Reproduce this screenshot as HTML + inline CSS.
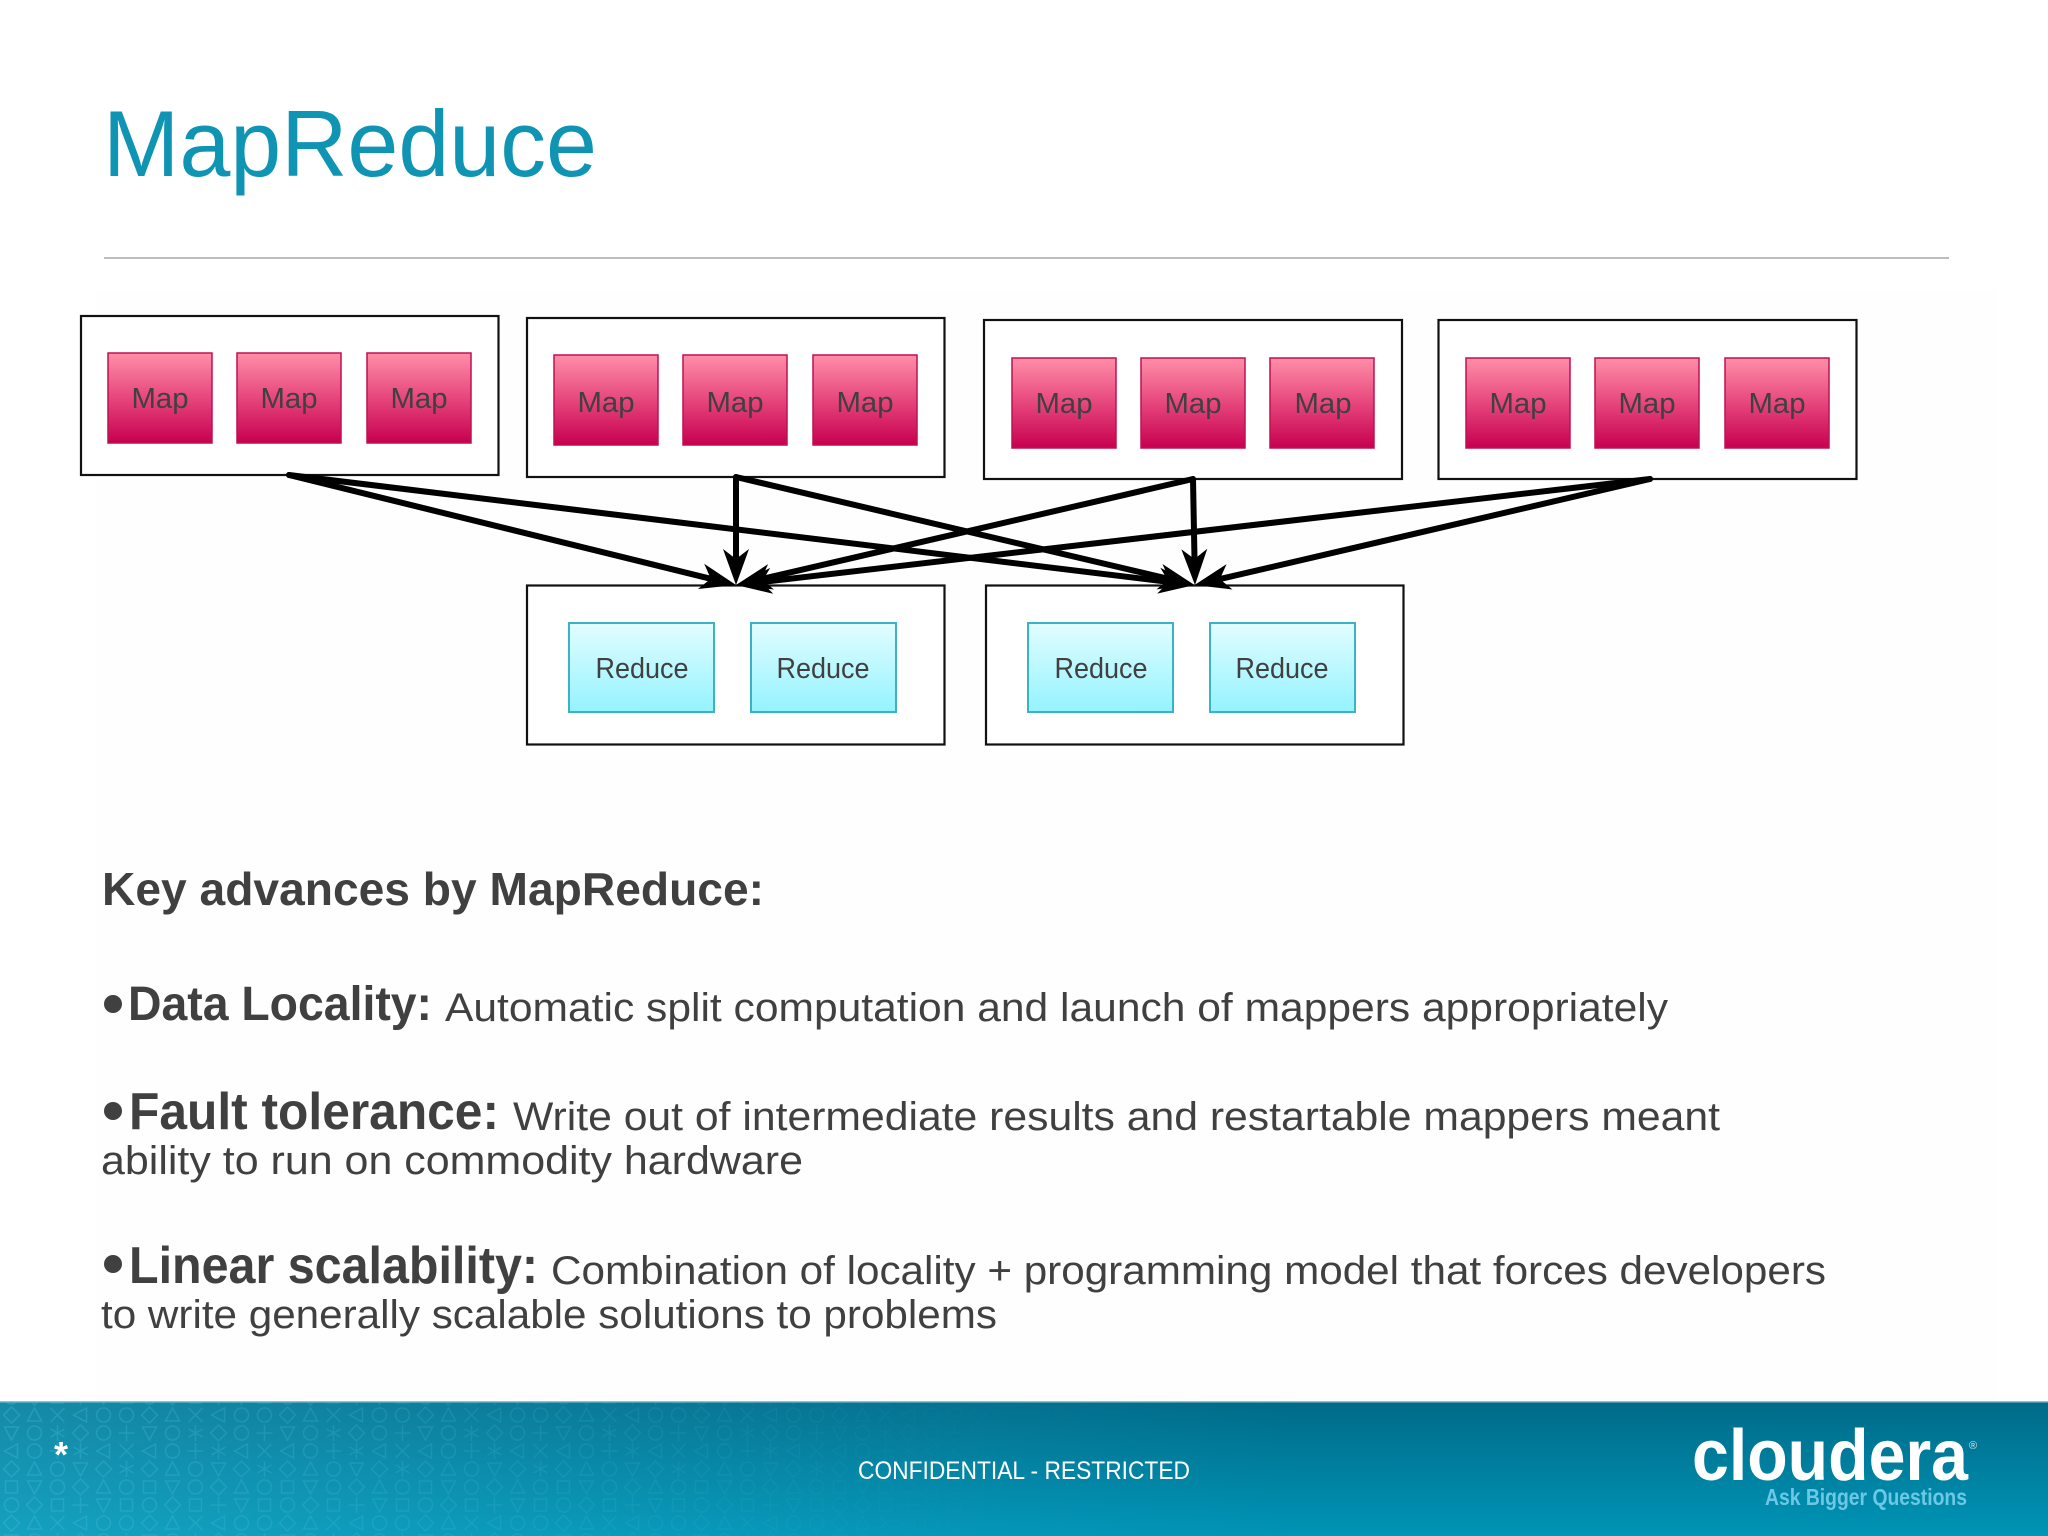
<!DOCTYPE html>
<html><head><meta charset="utf-8"><title>MapReduce</title>
<style>html,body{margin:0;padding:0;background:#fff}svg{display:block}text{font-family:"Liberation Sans",sans-serif}</style></head>
<body>
<svg xmlns="http://www.w3.org/2000/svg" width="2048" height="1536" viewBox="0 0 2048 1536">
<defs>
<linearGradient id="m" x1="0" y1="0" x2="0" y2="1"><stop offset="0" stop-color="#ff8fa8"/><stop offset=".5" stop-color="#e6467c"/><stop offset="1" stop-color="#c70050"/></linearGradient>
<linearGradient id="r" x1="0" y1="0" x2="0" y2="1"><stop offset="0" stop-color="#e2fdff"/><stop offset="1" stop-color="#94f3ff"/></linearGradient>
<linearGradient id="f" x1="0" y1="0" x2="0" y2="1"><stop offset="0" stop-color="#006a88"/><stop offset="1" stop-color="#0094b6"/></linearGradient>
<linearGradient id="lt" x1="0" y1="0" x2="1" y2="0"><stop offset="0" stop-color="#2fb0cc" stop-opacity=".45"/><stop offset=".5" stop-color="#2fb0cc" stop-opacity=".2"/><stop offset="1" stop-color="#2fb0cc" stop-opacity="0"/></linearGradient>
<linearGradient id="fade" x1="0" y1="0" x2="1" y2="0"><stop offset="0" stop-color="#fff" stop-opacity="1"/><stop offset=".6" stop-color="#fff" stop-opacity=".45"/><stop offset="1" stop-color="#fff" stop-opacity="0"/></linearGradient>
<mask id="fm"><rect x="0" y="1402" width="1060" height="134" fill="url(#fade)"/></mask>
<g id="c"><circle r="7"/></g>
<g id="t"><path d="M0-7l7 13h-14z"/></g>
<g id="v"><path d="M0 7l7-13h-14z"/></g>
<g id="l"><path d="M-7 0l13-7v14z"/></g>
<g id="d"><path d="M0-8l8 8-8 8-8-8z"/></g>
<g id="x"><path d="M-7-7L7 7M7-7L-7 7"/></g>
<g id="s"><rect x="-6" y="-6" width="12" height="12"/></g>
<g id="p"><path d="M0-8v16M-8 0h16"/></g>
<g id="a"><path d="M0-8v16M-7-4L7 4M7-4L-7 4"/></g>
<pattern id="gl" width="138" height="108" patternUnits="userSpaceOnUse" y="1406">
<g fill="none" stroke="#4cc2dc" stroke-width="1.5" stroke-opacity=".32">
<use href="#d" x="11.5" y="9"/><use href="#t" x="34.5" y="9"/><use href="#x" x="57.5" y="9"/><use href="#l" x="80.5" y="9"/><use href="#c" x="103.5" y="9"/><use href="#c" x="126.5" y="9"/>
<use href="#v" x="11.5" y="27"/><use href="#c" x="34.5" y="27"/><use href="#a" x="57.5" y="27"/><use href="#d" x="80.5" y="27"/><use href="#c" x="103.5" y="27"/><use href="#p" x="126.5" y="27"/>
<use href="#l" x="11.5" y="45"/><use href="#c" x="34.5" y="45"/><use href="#p" x="57.5" y="45"/><use href="#a" x="80.5" y="45"/><use href="#l" x="103.5" y="45"/><use href="#x" x="126.5" y="45"/>
<use href="#d" x="11.5" y="63"/><use href="#t" x="34.5" y="63"/><use href="#c" x="57.5" y="63"/><use href="#v" x="80.5" y="63"/><use href="#d" x="103.5" y="63"/><use href="#a" x="126.5" y="63"/>
<use href="#s" x="11.5" y="81"/><use href="#v" x="34.5" y="81"/><use href="#c" x="57.5" y="81"/><use href="#d" x="80.5" y="81"/><use href="#t" x="103.5" y="81"/><use href="#c" x="126.5" y="81"/>
<use href="#c" x="11.5" y="99"/><use href="#d" x="34.5" y="99"/><use href="#s" x="57.5" y="99"/><use href="#p" x="80.5" y="99"/><use href="#v" x="103.5" y="99"/><use href="#s" x="126.5" y="99"/>
</g></pattern>
<marker id="h" markerUnits="userSpaceOnUse" markerWidth="38" markerHeight="28" refX="10" refY="13" orient="auto" overflow="visible"><path d="M0 0L36 13L0 26L10 13Z" fill="#000"/></marker>
</defs>

<rect width="2048" height="1536" fill="#fff"/>
<rect x="97" y="290" width="1900" height="1110" fill="#fefefe"/>

<text x="103" y="176" font-size="94" fill="#1094b4" textLength="494" lengthAdjust="spacingAndGlyphs">MapReduce</text>
<line x1="104" y1="258" x2="1949" y2="258" stroke="#a9a9a9" stroke-width="1.5"/>

<g fill="#fff" stroke="#111" stroke-width="2.2">
<rect x="81" y="316" width="417.5" height="159"/>
<rect x="527" y="318" width="417.5" height="159"/>
<rect x="984" y="320" width="418" height="159"/>
<rect x="1438.5" y="320" width="418" height="159"/>
<rect x="527" y="585.5" width="417.5" height="159"/>
<rect x="986" y="585.5" width="417.5" height="159"/>
</g>

<g fill="url(#m)" stroke="#c01050" stroke-width="1.5">
<rect x="108" y="353" width="104" height="90"/><rect x="237" y="353" width="104" height="90"/><rect x="367" y="353" width="104" height="90"/>
<rect x="554" y="355" width="104" height="90"/><rect x="683" y="355" width="104" height="90"/><rect x="813" y="355" width="104" height="90"/>
<rect x="1012" y="358" width="104" height="90"/><rect x="1141" y="358" width="104" height="90"/><rect x="1270" y="358" width="104" height="90"/>
<rect x="1466" y="358" width="104" height="90"/><rect x="1595" y="358" width="104" height="90"/><rect x="1725" y="358" width="104" height="90"/>
</g>
<g font-size="29" fill="#404040" text-anchor="middle">
<text x="160" y="408" textLength="57" lengthAdjust="spacingAndGlyphs">Map</text><text x="289" y="408" textLength="57" lengthAdjust="spacingAndGlyphs">Map</text><text x="419" y="408" textLength="57" lengthAdjust="spacingAndGlyphs">Map</text>
<text x="606" y="412" textLength="57" lengthAdjust="spacingAndGlyphs">Map</text><text x="735" y="412" textLength="57" lengthAdjust="spacingAndGlyphs">Map</text><text x="865" y="412" textLength="57" lengthAdjust="spacingAndGlyphs">Map</text>
<text x="1064" y="413" textLength="57" lengthAdjust="spacingAndGlyphs">Map</text><text x="1193" y="413" textLength="57" lengthAdjust="spacingAndGlyphs">Map</text><text x="1323" y="413" textLength="57" lengthAdjust="spacingAndGlyphs">Map</text>
<text x="1518" y="413" textLength="57" lengthAdjust="spacingAndGlyphs">Map</text><text x="1647" y="413" textLength="57" lengthAdjust="spacingAndGlyphs">Map</text><text x="1777" y="413" textLength="57" lengthAdjust="spacingAndGlyphs">Map</text>
</g>

<g fill="url(#r)" stroke="#3ab4c4" stroke-width="2">
<rect x="569" y="623" width="145" height="89"/><rect x="751" y="623" width="145" height="89"/>
<rect x="1028" y="623" width="145" height="89"/><rect x="1210" y="623" width="145" height="89"/>
</g>
<g font-size="29" fill="#404040" text-anchor="middle">
<text x="642" y="678" textLength="93" lengthAdjust="spacingAndGlyphs">Reduce</text><text x="823" y="678" textLength="93" lengthAdjust="spacingAndGlyphs">Reduce</text>
<text x="1101" y="678" textLength="93" lengthAdjust="spacingAndGlyphs">Reduce</text><text x="1282" y="678" textLength="93" lengthAdjust="spacingAndGlyphs">Reduce</text>
</g>

<g stroke="#000" stroke-width="6" fill="none" stroke-linecap="round">
<line x1="289" y1="475" x2="710.8" y2="578.8" marker-end="url(#h)"/>
<line x1="736" y1="477" x2="736" y2="559" marker-end="url(#h)"/>
<line x1="1193" y1="479" x2="761.3" y2="579.1" marker-end="url(#h)"/>
<line x1="1650" y1="479" x2="761.8" y2="582" marker-end="url(#h)"/>
<line x1="289" y1="475" x2="1168.7" y2="581.9" marker-end="url(#h)"/>
<line x1="736" y1="477" x2="1169.2" y2="579" marker-end="url(#h)"/>
<line x1="1193" y1="479" x2="1194.5" y2="559" marker-end="url(#h)"/>
<line x1="1650" y1="479" x2="1219.8" y2="579.1" marker-end="url(#h)"/>
</g>

<g fill="#404040">
<text x="102" y="905" font-size="46" font-weight="bold" textLength="662" lengthAdjust="spacingAndGlyphs">Key advances by MapReduce:</text>
<circle cx="113" cy="1004" r="9"/>
<text x="128" y="1020" font-size="48" font-weight="bold" textLength="304" lengthAdjust="spacingAndGlyphs">Data Locality:</text>
<text x="445" y="1021" font-size="40" textLength="1223" lengthAdjust="spacingAndGlyphs">Automatic split computation and launch of mappers appropriately</text>
<circle cx="113" cy="1111" r="9"/>
<text x="129" y="1129" font-size="52" font-weight="bold" textLength="370" lengthAdjust="spacingAndGlyphs">Fault tolerance:</text>
<text x="513" y="1130" font-size="40" textLength="1207" lengthAdjust="spacingAndGlyphs">Write out of intermediate results and restartable mappers meant</text>
<text x="101" y="1174" font-size="40" textLength="702" lengthAdjust="spacingAndGlyphs">ability to run on commodity hardware</text>
<circle cx="113" cy="1264" r="9"/>
<text x="129" y="1283" font-size="52" font-weight="bold" textLength="409" lengthAdjust="spacingAndGlyphs">Linear scalability:</text>
<text x="551" y="1284" font-size="40" textLength="1275" lengthAdjust="spacingAndGlyphs">Combination of locality + programming model that forces developers</text>
<text x="101" y="1328" font-size="40" textLength="896" lengthAdjust="spacingAndGlyphs">to write generally scalable solutions to problems</text>
</g>

<rect x="0" y="1401" width="2048" height="135" fill="url(#f)"/>
<rect x="0" y="1402" width="1300" height="134" fill="url(#lt)"/>
<rect x="0" y="1401" width="2048" height="1.5" fill="#8cc4d4"/>
<g mask="url(#fm)"><rect x="0" y="1402" width="1060" height="134" fill="url(#gl)"/></g>
<text x="54" y="1467" font-size="36" font-weight="bold" fill="#fff">*</text>
<text x="858" y="1479" font-size="25" fill="#fff" textLength="332" lengthAdjust="spacingAndGlyphs">CONFIDENTIAL - RESTRICTED</text>
<text x="1692" y="1480" font-size="72" font-weight="bold" fill="#fff" textLength="276" lengthAdjust="spacingAndGlyphs">cloudera</text>
<text x="1969" y="1449" font-size="11" fill="#cfe8f0">®</text>
<text x="1765" y="1505" font-size="23" font-weight="bold" fill="#6cc8e4" textLength="202" lengthAdjust="spacingAndGlyphs">Ask Bigger Questions</text>
</svg>
</body></html>
